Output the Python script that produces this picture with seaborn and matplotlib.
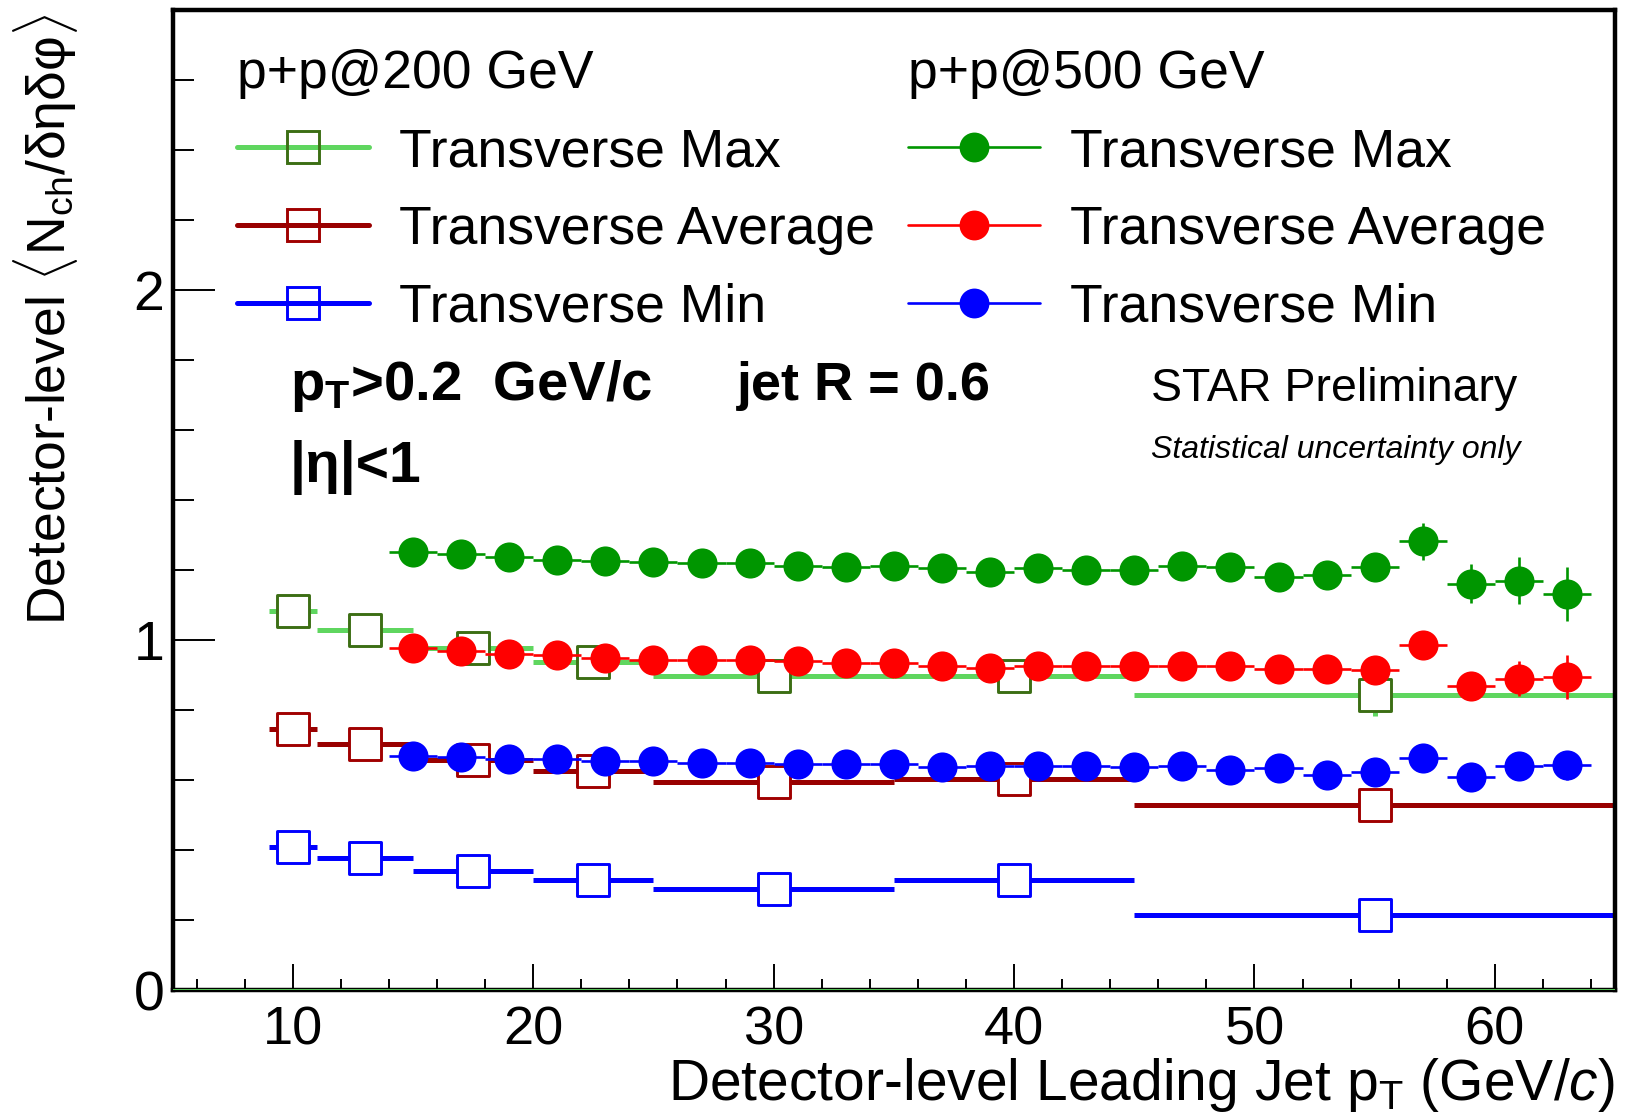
import numpy as np
import pandas as pd
import seaborn as sns
import matplotlib
matplotlib.use("Agg")
import matplotlib.pyplot as plt
from matplotlib.lines import Line2D
from matplotlib.ticker import MultipleLocator

# ---------------- data ----------------
# p+p @ 200 GeV: variable-width leading-jet pT bins
pt200 = [10, 13, 17.5, 22.5, 30, 40, 55]
bin_lo200 = [9, 11, 15, 20, 25, 35, 45]
bin_hi200 = [11, 15, 20, 25, 35, 45, 65]
max200 = [1.082, 1.029, 0.976, 0.938, 0.896, 0.896, 0.844]
avg200 = [0.747, 0.703, 0.657, 0.627, 0.593, 0.604, 0.529]
min200 = [0.410, 0.376, 0.341, 0.315, 0.289, 0.315, 0.215]
max200_err = [0.005, 0.006, 0.008, 0.010, 0.012, 0.020, 0.062]
avg200_err = [0.004, 0.005, 0.006, 0.007, 0.009, 0.015, 0.040]
min200_err = [0.003, 0.004, 0.005, 0.006, 0.007, 0.010, 0.020]

# p+p @ 500 GeV: 2 GeV/c wide bins
pt500 = [15, 17, 19, 21, 23, 25, 27, 29, 31, 33, 35, 37, 39, 41, 43, 45,
         47, 49, 51, 53, 55, 57, 59, 61, 63]
max500 = [1.252, 1.246, 1.236, 1.230, 1.226, 1.222, 1.219, 1.221, 1.212, 1.208,
          1.212, 1.207, 1.195, 1.206, 1.199, 1.200, 1.211, 1.210, 1.181, 1.186,
          1.208, 1.282, 1.161, 1.170, 1.131]
avg500 = [0.976, 0.968, 0.960, 0.957, 0.950, 0.944, 0.942, 0.943, 0.939, 0.935,
          0.935, 0.925, 0.920, 0.925, 0.927, 0.925, 0.927, 0.927, 0.916, 0.918,
          0.913, 0.985, 0.868, 0.890, 0.894]
min500 = [0.668, 0.665, 0.660, 0.660, 0.653, 0.653, 0.650, 0.649, 0.646, 0.646,
          0.647, 0.636, 0.639, 0.639, 0.639, 0.637, 0.641, 0.628, 0.635, 0.614,
          0.624, 0.663, 0.610, 0.641, 0.642]
max500_err = [0.008, 0.008, 0.009, 0.009, 0.010, 0.010, 0.011, 0.011, 0.012, 0.012,
              0.013, 0.013, 0.014, 0.015, 0.016, 0.017, 0.019, 0.021, 0.023, 0.026,
              0.030, 0.053, 0.055, 0.066, 0.078]
avg500_err = [0.006, 0.006, 0.007, 0.007, 0.007, 0.008, 0.008, 0.009, 0.009, 0.010,
              0.010, 0.011, 0.011, 0.012, 0.013, 0.014, 0.015, 0.016, 0.018, 0.020,
              0.022, 0.035, 0.040, 0.050, 0.062]
min500_err = [0.005, 0.005, 0.005, 0.006, 0.006, 0.006, 0.007, 0.007, 0.007, 0.008,
              0.008, 0.009, 0.009, 0.010, 0.010, 0.011, 0.012, 0.013, 0.014, 0.015,
              0.017, 0.030, 0.035, 0.038, 0.042]
bin_half500 = 1.0

labels = ["Transverse Max", "Transverse Average", "Transverse Min"]

# ---------------- style ----------------
sns.set_theme(style="ticks")
plt.rcParams["font.family"] = ["Liberation Sans", "DejaVu Sans"]
plt.rcParams["mathtext.fontset"] = "custom"
plt.rcParams["mathtext.rm"] = "Liberation Sans"
plt.rcParams["mathtext.it"] = "Liberation Sans:italic"
plt.rcParams["mathtext.bf"] = "Liberation Sans:bold"
for key in ["text.color", "axes.labelcolor", "xtick.color", "ytick.color",
            "axes.edgecolor"]:
    plt.rcParams[key] = "black"

c200_line = ["#5fd65f", "#990000", "#0000ff"]
c200_edge = ["#3c6e14", "#a00000", "#0000ff"]
c500 = ["#009600", "#ff0000", "#0000ff"]

fig = plt.figure(figsize=(16.38, 11.13), dpi=100)
ax = fig.add_axes([0.1054, 0.1105, 0.8806, 0.8805])

# baseline of the 200 GeV histogram
ax.axhline(0, color=c200_line[0], lw=2.0, zorder=3)

# ---- 200 GeV: horizontal bin bars + open squares ----
df200 = pd.DataFrame({"pt": pt200, "lo": bin_lo200, "hi": bin_hi200})
for vals, errs, lc, ec in zip([max200, avg200, min200],
                              [max200_err, avg200_err, min200_err],
                              c200_line, c200_edge):
    d = df200.assign(y=vals, e=errs)
    ax.errorbar(d["pt"], d["y"],
                xerr=[d["pt"] - d["lo"], d["hi"] - d["pt"]], yerr=d["e"],
                fmt="none", ecolor=lc, elinewidth=3.6, capsize=0, zorder=2)
    sns.scatterplot(data=d, x="pt", y="y", ax=ax, marker="s", s=530,
                    color=ec, facecolor="white", edgecolor=ec,
                    linewidth=2.1, zorder=3, legend=False)

# ---- 500 GeV: filled circles ----
df500 = pd.DataFrame({"pt": pt500})
for vals, errs, c in zip([max500, avg500, min500],
                         [max500_err, avg500_err, min500_err], c500):
    d = df500.assign(y=vals, e=errs)
    ax.errorbar(d["pt"], d["y"], xerr=bin_half500, yerr=d["e"],
                fmt="none", ecolor=c, elinewidth=1.9, capsize=0, zorder=4)
    sns.scatterplot(data=d, x="pt", y="y", ax=ax, marker="o", s=470,
                    color=c, edgecolor=c, linewidth=0, zorder=5, legend=False)

# ---------------- axes ----------------
ax.set_xlim(5, 65)
ax.set_ylim(0, 2.8)
ax.xaxis.set_major_locator(MultipleLocator(10))
ax.xaxis.set_minor_locator(MultipleLocator(2))
ax.yaxis.set_major_locator(MultipleLocator(1))
ax.yaxis.set_minor_locator(MultipleLocator(0.2))
for s in ax.spines.values():
    s.set_linewidth(3.2)
    s.set_color("black")
    s.set_visible(True)
ax.tick_params(axis="x", which="major", direction="in", length=18.5, width=1.4,
               labelsize=39, pad=11, top=False, color="black")
ax.tick_params(axis="x", which="minor", direction="in", length=8, width=1.4,
               top=False, color="black")
ax.tick_params(axis="y", which="major", direction="in", length=30.5, width=1.4,
               labelsize=40, pad=6, right=False, color="black")
ax.tick_params(axis="y", which="minor", direction="in", length=15, width=1.4,
               right=False, color="black")
ax.grid(False)

ax.set_xlabel(r"Detector-level Leading Jet p$_{\mathrm{T}}$ (GeV/$c$)",
              fontsize=41, loc="right")
ax.xaxis.set_label_coords(1.0, -0.067)
ax.set_ylabel(r"Detector-level $\langle$N$_{\mathrm{ch}}$/δηδφ$\rangle$",
              fontsize=38.5, loc="top")
ax.yaxis.set_label_coords(-0.064, 0.996)

# ---------------- legends ----------------
h200 = [Line2D([], [], color=lc, lw=3.6, marker="s", ms=23, mfc="none",
               mec=ec, mew=2.1) for lc, ec in zip(c200_line, c200_edge)]
h500 = [Line2D([], [], color=c, lw=1.9, marker="o", ms=21.5, mfc=c,
               mec=c, mew=0) for c in c500]
leg_kw = dict(loc="upper left", frameon=False, fontsize=38.5,
              title_fontsize=38.5, handlelength=2.47, handletextpad=0.57,
              labelspacing=0.52, borderpad=0, borderaxespad=0,
              alignment="left")
leg1 = ax.legend(h200, labels, title="p+p@200 GeV",
                 bbox_to_anchor=(0.0445, 0.960), **leg_kw)
ax.add_artist(leg1)
ax.legend(h500, labels, title="p+p@500 GeV",
          bbox_to_anchor=(0.5095, 0.960), **leg_kw)

# ---------------- annotations ----------------
ax.text(0.0813, 0.602, r"p$_{\mathbf{T}}$>0.2  GeV/c", transform=ax.transAxes,
        fontsize=40.5, fontweight="bold", va="baseline", ha="left")
ax.text(0.391, 0.602, "jet R = 0.6", transform=ax.transAxes,
        fontsize=39, fontweight="bold", va="baseline", ha="left")
ax.text(0.0813, 0.5187, "|η|<1", transform=ax.transAxes,
        fontsize=41, fontweight="bold", va="baseline", ha="left")
ax.text(0.6784, 0.6008, "STAR Preliminary", transform=ax.transAxes,
        fontsize=33.5, va="baseline", ha="left")
ax.text(0.6784, 0.543, "Statistical uncertainty only", transform=ax.transAxes,
        fontsize=23, style="italic", va="baseline", ha="left")

fig.savefig("out.png", dpi=100)
